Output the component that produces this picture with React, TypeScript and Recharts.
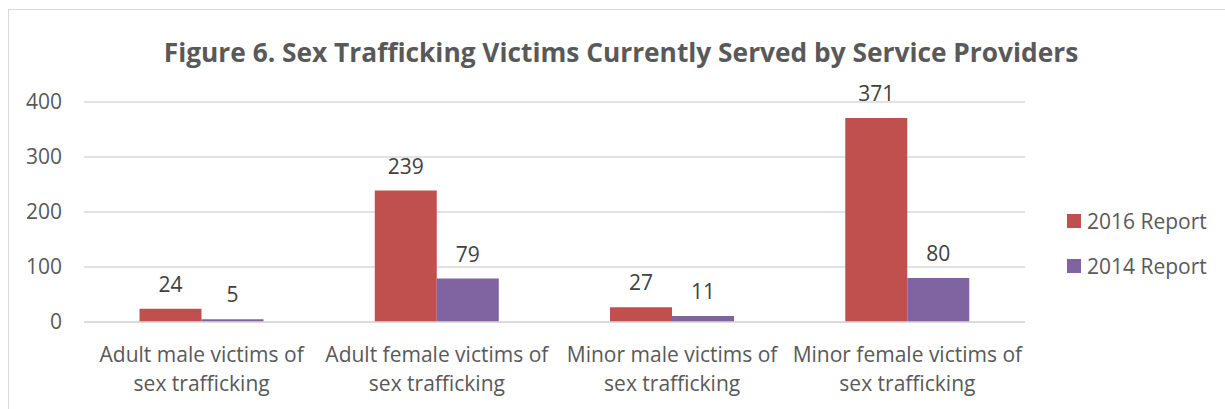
import React from "react";
import { BarChart, Bar, XAxis, YAxis, CartesianGrid, Legend, LabelList } from "recharts";

const categories = [
  "Adult male victims of sex trafficking",
  "Adult female victims of sex trafficking",
  "Minor male victims of sex trafficking",
  "Minor female victims of sex trafficking",
];
const categoryLines = [
  ["Adult male victims of", "sex trafficking"],
  ["Adult female victims of", "sex trafficking"],
  ["Minor male victims of", "sex trafficking"],
  ["Minor female victims of", "sex trafficking"],
];
const report2016 = [24, 239, 27, 371];
const report2014 = [5, 79, 11, 80];
const yTicks = [0, 100, 200, 300, 400];
const seriesNames = ["2016 Report", "2014 Report"];
const title = "Figure 6. Sex Trafficking Victims Currently Served by Service Providers";

const data = categories.map((c, i) => ({
  name: c,
  idx: i,
  r2016: report2016[i],
  r2014: report2014[i],
}));

const FONT = "'Open Sans', 'Noto Sans', sans-serif";
const RED = "#C0504D";
const PURPLE = "#8064A2";
const FS = 21;

const CategoryTick = (props: any) => {
  const { x, y, payload } = props;
  const lines = categoryLines[payload.index] || [String(payload.value)];
  return (
    <text x={x} y={y} textAnchor="middle" fill="#595959" fontSize={FS} fontFamily={FONT}>
      {lines.map((l: string, i: number) => (
        <tspan key={i} x={x} dy={i === 0 ? 32 : 29}>
          {l}
        </tspan>
      ))}
    </text>
  );
};

const LegendContent = (props: any) => {
  const payload = [...(props.payload || [])].sort(
    (a: any, b: any) => seriesNames.indexOf(a.value) - seriesNames.indexOf(b.value)
  );
  return (
    <div style={{ fontFamily: FONT }}>
      {payload.map((p: any, i: number) => (
        <div key={i} style={{ display: "flex", alignItems: "center", height: 45 }}>
          <div style={{ width: 14, height: 14, background: p.color, marginRight: 6 }} />
          <span style={{ fontSize: FS, color: "#595959" }}>{p.value}</span>
        </div>
      ))}
    </div>
  );
};

export default function App() {
  return (
    <div
      style={{
        position: "fixed",
        left: 8,
        top: 9,
        width: 1217,
        height: 400,
        overflow: "hidden",
        borderLeft: "1px solid #d9d9d9",
        borderTop: "1px solid #d9d9d9",
        background: "#fff",
      }}
    >
      <BarChart
        width={1216}
        height={399}
        data={data}
        margin={{ top: 92, right: 40, bottom: 0, left: 0 }}
        barCategoryGap="23.6%"
        barGap={0}
      >
        <text
          x={612}
          y={52}
          textAnchor="middle"
          fontFamily={FONT}
          fontWeight="bold"
          fontSize={26.3}
          fill="#595959"
        >
          {title}
        </text>
        <CartesianGrid vertical={false} stroke="#d9d9d9" strokeWidth={1.5} />
        <XAxis
          dataKey="name"
          tick={<CategoryTick />}
          tickLine={false}
          axisLine={{ stroke: "#d9d9d9", strokeWidth: 1.5 }}
          interval={0}
          height={87}
        />
        <YAxis
          domain={[0, 400]}
          ticks={yTicks}
          width={75}
          tickLine={false}
          axisLine={false}
          tickSize={0}
          tickMargin={22}
          tick={{ fill: "#595959", fontSize: FS, fontFamily: FONT }}
        />
        <Legend
          layout="vertical"
          verticalAlign="top"
          align="right"
          content={<LegendContent />}
          wrapperStyle={{ position: "absolute", left: 1058, top: 188, width: 160 }}
        />
        <Bar dataKey="r2016" name={seriesNames[0]} fill={RED} isAnimationActive={false}>
          <LabelList dataKey="r2016" position="top" offset={17} fill="#404040" fontSize={FS} fontFamily={FONT} />
        </Bar>
        <Bar dataKey="r2014" name={seriesNames[1]} fill={PURPLE} isAnimationActive={false}>
          <LabelList dataKey="r2014" position="top" offset={17} fill="#404040" fontSize={FS} fontFamily={FONT} />
        </Bar>
      </BarChart>
    </div>
  );
}
